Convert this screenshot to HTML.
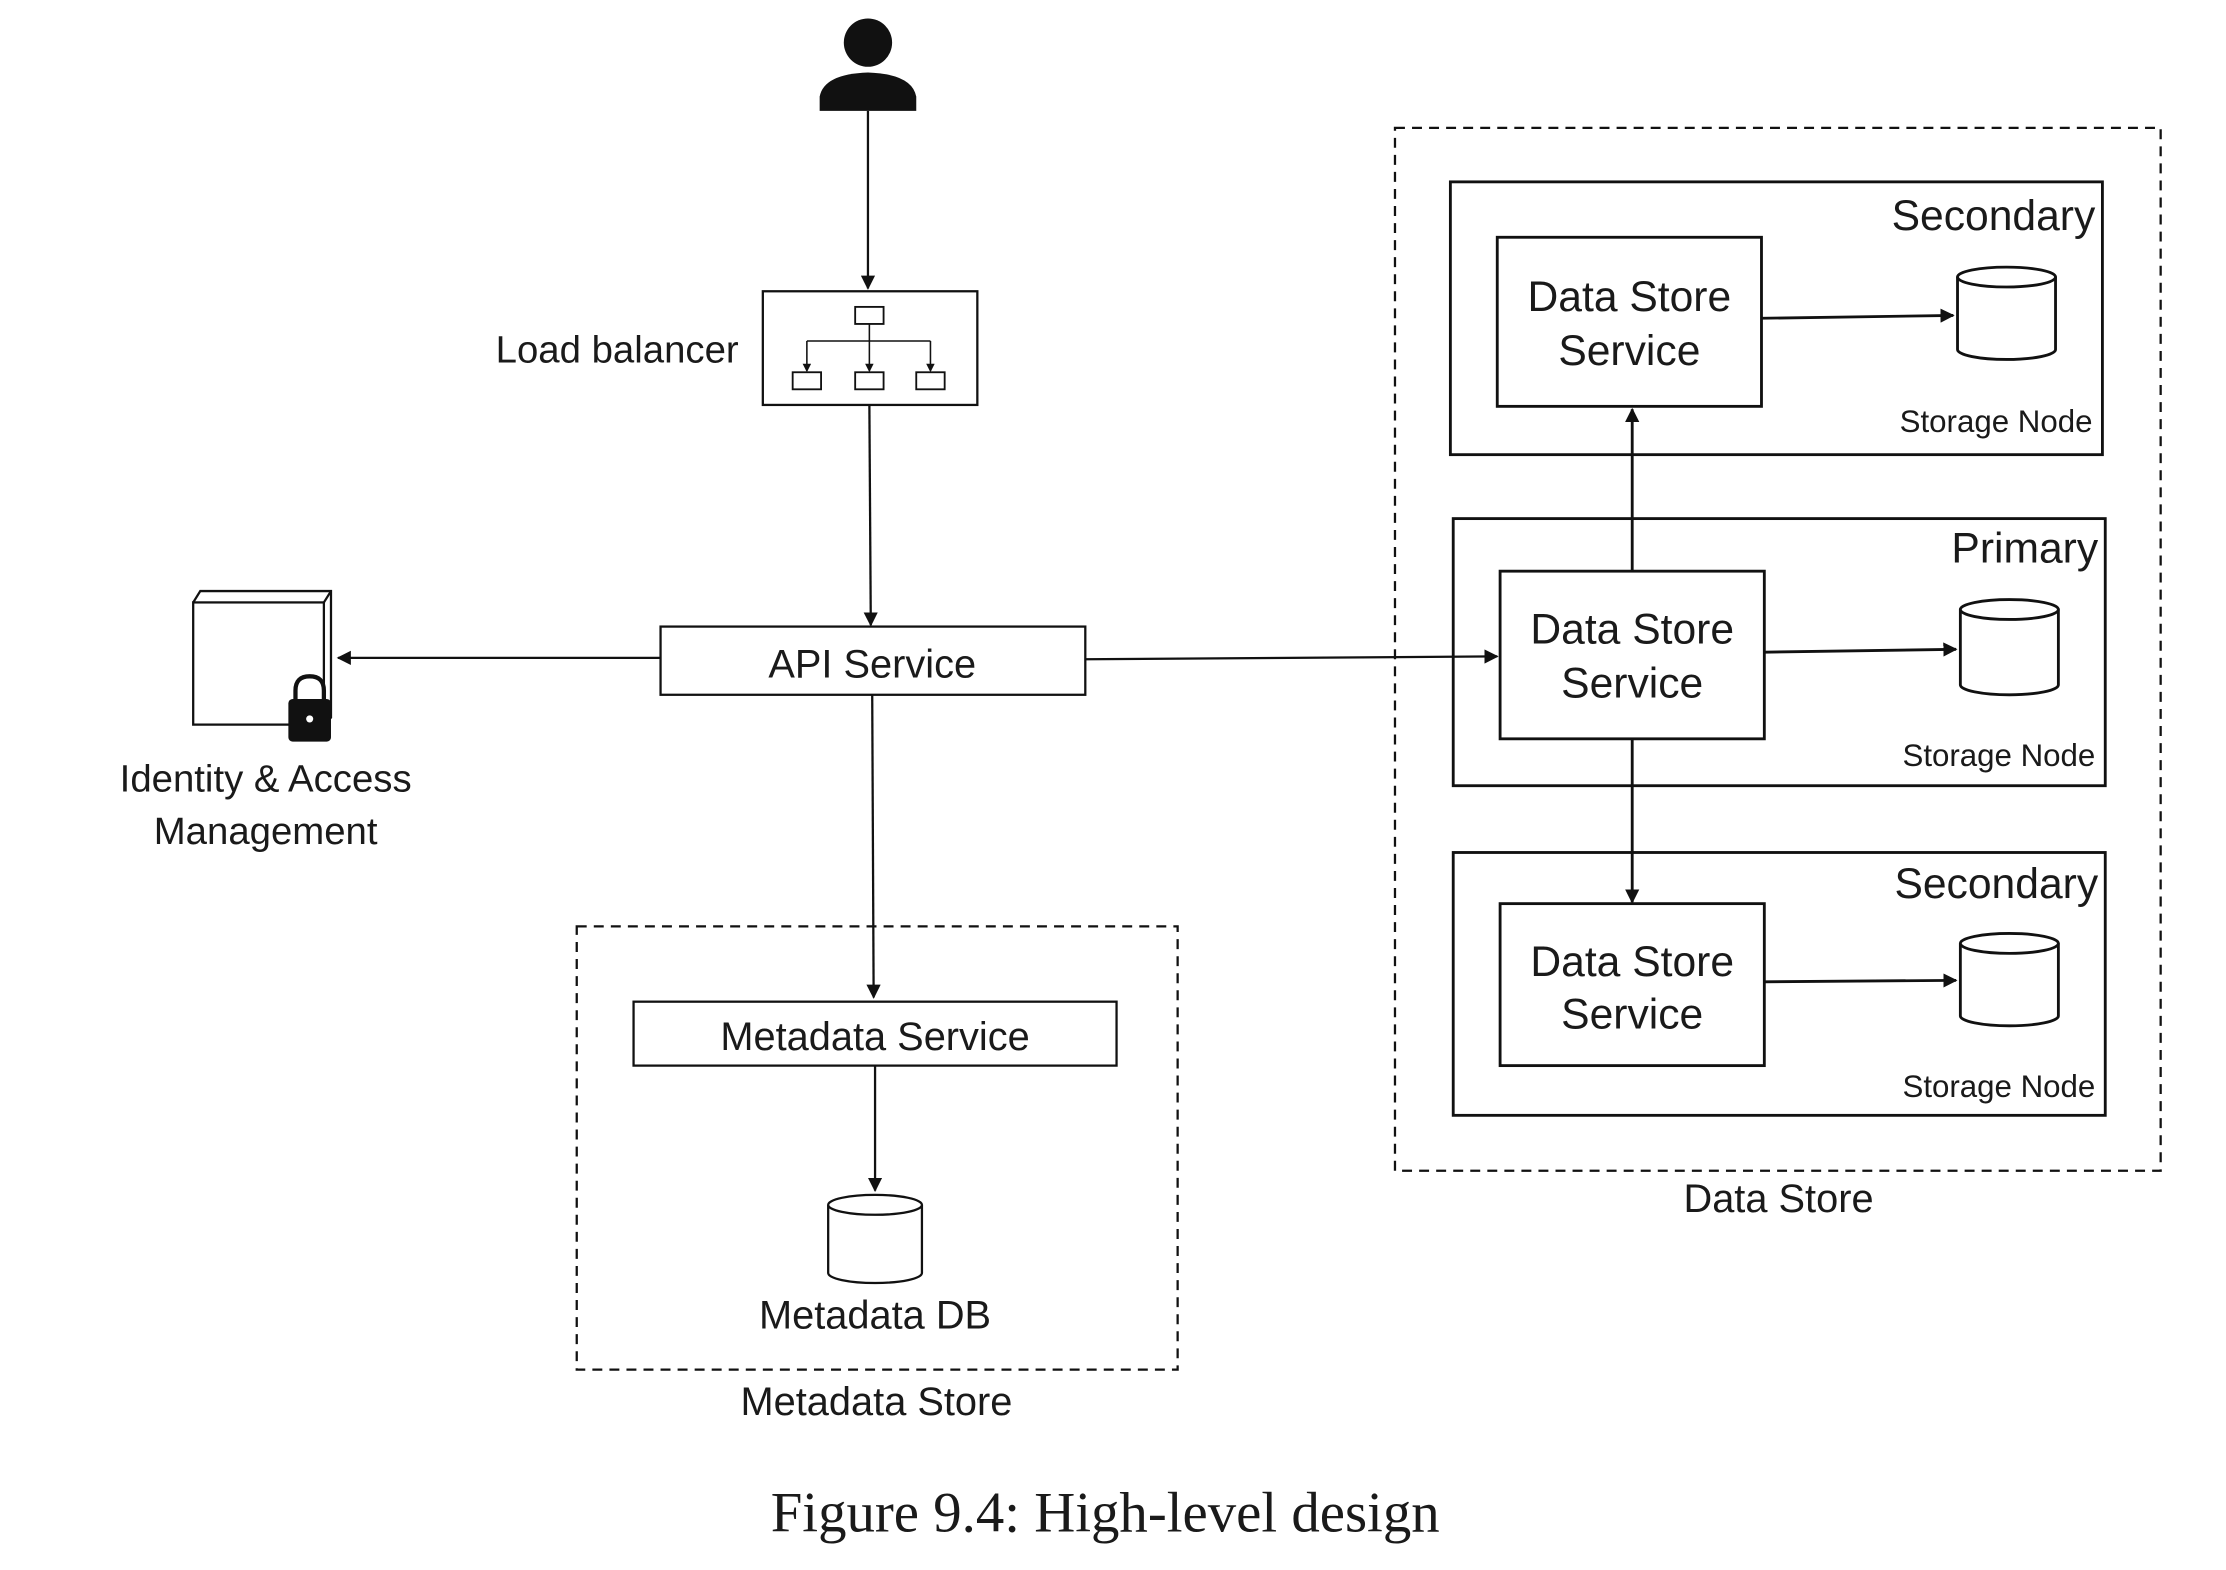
<!DOCTYPE html>
<html><head><meta charset="utf-8"><style>
html,body{margin:0;padding:0;background:#fff;}
svg{display:block;}
text{font-family:"Liberation Sans",sans-serif;fill:#1a1a1a;}
</style></head><body>
<svg width="2226" height="1570" viewBox="0 0 1567 1105" preserveAspectRatio="none" xmlns="http://www.w3.org/2000/svg">
<defs>
<marker id="a" markerWidth="10" markerHeight="10" refX="9" refY="5" orient="auto" markerUnits="userSpaceOnUse" viewBox="0 0 10 10"><path d="M0,0 L10,5 L0,10 z" fill="#111"/></marker>
<marker id="s" markerWidth="6" markerHeight="6" refX="5" refY="3" orient="auto" markerUnits="userSpaceOnUse" viewBox="0 0 6 6"><path d="M0,0 L6,3 L0,6 z" fill="#111"/></marker>
</defs>
<g stroke="#111" stroke-width="1.6" fill="none">
<circle cx="611" cy="30" r="17" fill="#111" stroke="none"/>
<path d="M577,78 L577,68 Q580,52 611,51 Q642,52 645,68 L645,78 Z" fill="#111" stroke="none"/>
<rect x="537" y="205" width="151" height="80" fill="#fff"/>
<rect x="602" y="216" width="20" height="12" stroke-width="1.3"/>
<line x1="612" y1="228" x2="612" y2="240" stroke-width="1.1"/>
<line x1="568" y1="240" x2="655" y2="240" stroke-width="1.1"/>
<line x1="568" y1="240" x2="568" y2="261" stroke-width="1.1" marker-end="url(#s)"/>
<line x1="612" y1="240" x2="612" y2="261" stroke-width="1.1" marker-end="url(#s)"/>
<line x1="655" y1="240" x2="655" y2="261" stroke-width="1.1" marker-end="url(#s)"/>
<rect x="558" y="262" width="20" height="12" stroke-width="1.3"/>
<rect x="602" y="262" width="20" height="12" stroke-width="1.3"/>
<rect x="645" y="262" width="20" height="12" stroke-width="1.3"/>
<rect x="465" y="441" width="299" height="48" fill="#fff"/>
<rect x="136" y="424" width="92" height="86" fill="#fff"/>
<path d="M136,424 L141,416 L233,416 L233,505 L228,510"/>
<line x1="228" y1="424" x2="233" y2="416"/>
<path d="M208,492 L208,486 Q208,476 218,476 Q228,476 228,486 L228,492" stroke-width="3"/>
<rect x="203" y="492" width="30" height="30" rx="3" fill="#111" stroke="none"/>
<circle cx="218" cy="506" r="2.5" fill="#fff" stroke="none"/>
<rect x="406" y="652" width="423" height="312" stroke-dasharray="7,5"/>
<rect x="446" y="705" width="340" height="45" fill="#fff"/>
<path d="M583,848 L583,896 A33,7 0 0 0 649,896 L649,848" fill="#fff"/>
<ellipse cx="616" cy="848" rx="33" ry="7" fill="#fff"/>
<rect x="982" y="90" width="539" height="734" stroke-dasharray="7,5"/>
<rect x="1021" y="128" width="459" height="192" fill="#fff" stroke-width="2"/>
<rect x="1054" y="167" width="186" height="119" stroke-width="2"/>
<path d="M1378,195 L1378,246 A34.5,7 0 0 0 1447,246 L1447,195" fill="#fff" stroke-width="2"/>
<ellipse cx="1412.5" cy="195" rx="34.5" ry="7" fill="#fff" stroke-width="2"/>
<rect x="1023" y="365" width="459" height="188" fill="#fff" stroke-width="2"/>
<rect x="1056" y="402" width="186" height="118" stroke-width="2"/>
<path d="M1380,429 L1380,482 A34.5,7 0 0 0 1449,482 L1449,429" fill="#fff" stroke-width="2"/>
<ellipse cx="1414.5" cy="429" rx="34.5" ry="7" fill="#fff" stroke-width="2"/>
<rect x="1023" y="600" width="459" height="185" fill="#fff" stroke-width="2"/>
<rect x="1056" y="636" width="186" height="114" stroke-width="2"/>
<path d="M1380,664 L1380,715 A34.5,7 0 0 0 1449,715 L1449,664" fill="#fff" stroke-width="2"/>
<ellipse cx="1414.5" cy="664" rx="34.5" ry="7" fill="#fff" stroke-width="2"/>
<line x1="611" y1="78" x2="611" y2="203" marker-end="url(#a)"/>
<line x1="612" y1="285" x2="613" y2="440" marker-end="url(#a)"/>
<line x1="465" y1="463" x2="238" y2="463" marker-end="url(#a)"/>
<line x1="764" y1="464" x2="1054" y2="462" marker-end="url(#a)"/>
<line x1="614" y1="489" x2="615" y2="702" marker-end="url(#a)"/>
<line x1="616" y1="750" x2="616" y2="838" marker-end="url(#a)"/>
<line x1="1240" y1="224" x2="1375" y2="222" stroke-width="2" marker-end="url(#a)"/>
<line x1="1242" y1="459" x2="1377" y2="457" stroke-width="2" marker-end="url(#a)"/>
<line x1="1242" y1="691" x2="1377" y2="690" stroke-width="2" marker-end="url(#a)"/>
<line x1="1149" y1="402" x2="1149" y2="288" stroke-width="2" marker-end="url(#a)"/>
<line x1="1149" y1="520" x2="1149" y2="635" stroke-width="2" marker-end="url(#a)"/>
</g>
<g font-size="28">
<text x="520" y="255" text-anchor="end" font-size="27">Load balancer</text>
<text x="614" y="477" text-anchor="middle">API Service</text>
<text x="187" y="557" text-anchor="middle" font-size="27">Identity &amp; Access</text>
<text x="187" y="594" text-anchor="middle" font-size="27">Management</text>
<text x="616" y="739" text-anchor="middle">Metadata Service</text>
<text x="616" y="935" text-anchor="middle">Metadata DB</text>
<text x="617" y="996" text-anchor="middle">Metadata Store</text>
<text x="1252" y="853" text-anchor="middle">Data Store</text>
<g font-size="30">
<text x="1475" y="162" text-anchor="end">Secondary</text>
<text x="1477" y="396" text-anchor="end">Primary</text>
<text x="1477" y="632" text-anchor="end">Secondary</text>
<text x="1147" y="219" text-anchor="middle">Data Store</text>
<text x="1147" y="257" text-anchor="middle">Service</text>
<text x="1149" y="453" text-anchor="middle">Data Store</text>
<text x="1149" y="491" text-anchor="middle">Service</text>
<text x="1149" y="687" text-anchor="middle">Data Store</text>
<text x="1149" y="724" text-anchor="middle">Service</text>
</g>
<g font-size="22">
<text x="1473" y="304" text-anchor="end">Storage Node</text>
<text x="1475" y="539" text-anchor="end">Storage Node</text>
<text x="1475" y="772" text-anchor="end">Storage Node</text>
</g>
<text x="778" y="1078" text-anchor="middle" font-size="40" style="font-family:'Liberation Serif',serif">Figure 9.4: High-level design</text>
</g>
</svg>
</body></html>
